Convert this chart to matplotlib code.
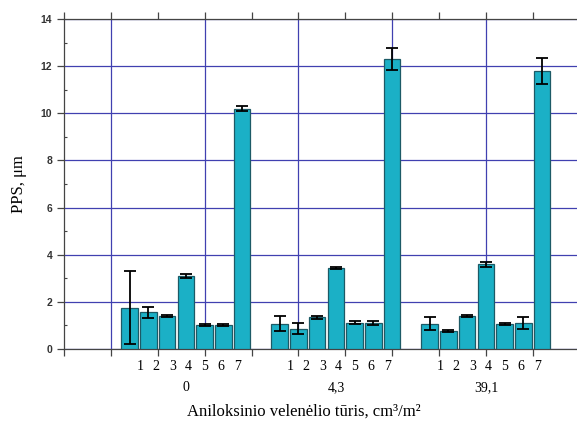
import matplotlib.pyplot as plt
import numpy as np

# PPS per roller volume group, samples 1..7
groups = ["0", "4,3", "39,1"]
sample_labels = ["1", "2", "3", "4", "5", "6", "7"]
pps_0 = [1.75, 1.55, 1.40, 3.10, 1.03, 1.02, 10.20]
err_0 = [1.55, 0.23, 0.05, 0.07, 0.05, 0.04, 0.12]
pps_43 = [1.08, 0.87, 1.34, 3.45, 1.12, 1.10, 12.30]
err_43 = [0.32, 0.25, 0.05, 0.04, 0.05, 0.08, 0.46]
pps_391 = [1.07, 0.76, 1.40, 3.60, 1.07, 1.12, 11.80]
err_391 = [0.27, 0.03, 0.06, 0.10, 0.05, 0.25, 0.55]

values = [pps_0, pps_43, pps_391]
errors = [err_0, err_43, err_391]

bar_color = "#1bb0c6"
edge_color = "#1d5a66"
grid_color = "#4040b0"
serif = ["Liberation Serif", "DejaVu Serif"]

fig = plt.figure(figsize=(5.77, 4.25), dpi=100)
ax = fig.add_axes([0.1109, 0.1788, 0.8937, 0.7765])

# one empty slot between groups of 7 bars
for g, (vals, errs) in enumerate(zip(values, errors)):
    x = np.arange(1, 8) + g * 8
    ax.bar(x, vals, width=0.88, color=bar_color, edgecolor=edge_color,
           linewidth=0.9, zorder=3)
    ax.errorbar(x, vals, yerr=errs, fmt="none", ecolor="black",
                elinewidth=1.3, capsize=4.3, capthick=1.3, zorder=4)

    # sample numbers under the bars, group value below them
    center = 4 + g * 8
    for i, lab in enumerate(sample_labels):
        ax.annotate(lab, xy=(center + (i - 3) * 0.865 + 0.15, 0),
                    xycoords="data", xytext=(0, -8), textcoords="offset points",
                    ha="center", va="top", fontsize=10, family=serif)
    ax.annotate(groups[g], xy=(center, 0), xycoords="data",
                xytext=(0, -23), textcoords="offset points",
                ha="center", va="top", fontsize=10, family=serif)

ax.set_xlim(-2.5, 25)
ax.set_ylim(0, 14)

ax.set_yticks(np.arange(0, 15, 2))
ax.set_yticks(np.arange(1, 15, 2), minor=True)
ax.set_xticks([0, 5, 10, 15, 20])
ax.set_xticks(np.arange(-2.5, 25, 2.5), minor=True)
ax.set_xticklabels([])

ax.grid(True, which="major", color=grid_color, linewidth=0.9, zorder=0)
ax.set_axisbelow(True)

ax.tick_params(axis="y", which="major", direction="out", length=5,
               width=0.9, colors="#444444", labelsize=7.5)
ax.tick_params(axis="y", which="minor", direction="in", length=2,
               width=0.8, color="#444444", right=False)
ax.tick_params(axis="x", which="both", direction="out", length=5,
               width=0.9, color="#444444", top=True)
for lab in ax.get_yticklabels():
    lab.set_fontweight("bold")
    lab.set_family(["Liberation Sans", "DejaVu Sans"])
    lab.set_color("#333333")

for side in ["left", "bottom", "top", "right"]:
    ax.spines[side].set_color("#444444")
    ax.spines[side].set_linewidth(0.9)

ax.set_ylabel("PPS, μm", fontsize=12, family=serif, labelpad=10)
ax.set_xlabel("Aniloksinio velenėlio tūris, cm³/m²", fontsize=12,
              family=serif)
ax.xaxis.set_label_coords(0.465, -0.165)

fig.savefig("out.png", dpi=100)
